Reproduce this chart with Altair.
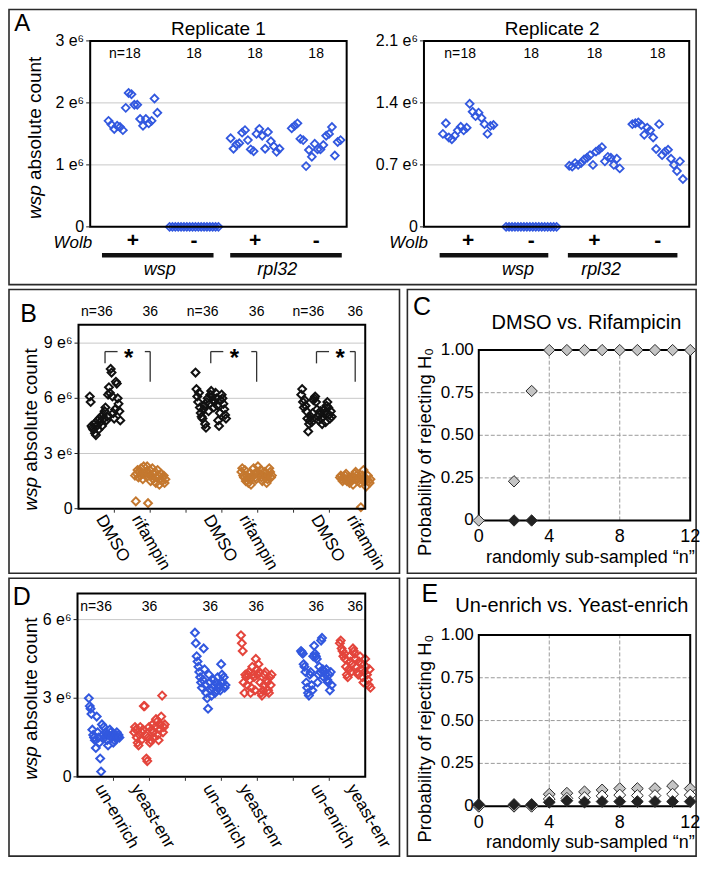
import altair as alt
import pandas as pd

# ---------------- values (wsp counts in units of 1e6) ----------------
rep1_wsp_pos = [1.71, 1.65, 1.58, 1.63, 1.61, 1.56, 1.92, 2.16, 2.14, 1.97, 1.97, 1.74, 1.63, 1.74, 1.67, 1.71, 2.07, 1.84]
rep1_wsp_neg = [0, 0, 0, 0, 0, 0, 0, 0, 0, 0, 0, 0, 0, 0, 0, 0, 0, 0]
rep1_rpl_pos = [1.43, 1.26, 1.33, 1.35, 1.52, 1.56, 1.40, 1.25, 1.22, 1.50, 1.58, 1.47, 1.26, 1.53, 1.38, 1.30, 1.21, 1.26]
rep1_rpl_neg = [1.59, 1.63, 1.67, 1.42, 1.40, 0.98, 1.24, 1.13, 1.34, 1.25, 1.25, 1.32, 1.47, 1.50, 1.61, 1.15, 1.37, 1.40]

rep2_wsp_pos = [1.05, 1.17, 1.01, 0.99, 1.03, 1.09, 1.13, 1.09, 1.12, 1.39, 1.30, 1.25, 1.29, 1.23, 1.16, 1.05, 1.14, 1.15]
rep2_wsp_neg = [0, 0, 0, 0, 0, 0, 0, 0, 0, 0, 0, 0, 0, 0, 0, 0, 0, 0]
rep2_rpl_pos = [0.69, 0.68, 0.72, 0.70, 0.72, 0.76, 0.78, 0.81, 0.70, 0.85, 0.87, 0.90, 0.74, 0.79, 0.78, 0.70, 0.77, 0.66]
rep2_rpl_neg = [1.16, 1.17, 1.18, 1.15, 1.04, 1.12, 1.09, 1.01, 0.88, 1.16, 0.81, 0.85, 0.87, 0.77, 0.70, 0.63, 0.74, 0.54]

a_wolb = ["+", "-", "+", "-"]
a_counts = [18, 18, 18, 18]
a_prefix = ["n=", "", "", ""]
a1_ticks = [0, 1, 2, 3]
a1_tick_labels = ["0", "1 e\u2076", "2 e\u2076", "3 e\u2076"]
a2_ticks = [0, 0.7, 1.4, 2.1]
a2_tick_labels = ["0", "0.7 e\u2076", "1.4 e\u2076", "2.1 e\u2076"]

b_groups = ["DMSO", "rifampin", "DMSO", "rifampin", "DMSO", "rifampin"]
b_dmso_1 = [6.1, 5.8, 4.5, 4.4, 4.3, 4.6, 4.1, 4.0, 4.5, 4.8, 4.3, 4.9, 4.7, 5.0, 4.5, 5.1, 4.9, 5.3,
            5.5, 4.8, 5.0, 6.2, 6.6, 6.3, 7.6, 7.4, 6.1, 5.2, 4.9, 5.4, 6.9, 6.8, 6.0, 5.7, 5.3, 4.8]
b_rif_1 = [1.8, 0.40, 1.9, 2.1, 1.7, 2.0, 1.8, 2.2, 1.9, 1.6, 2.3, 1.9, 1.8, 2.0, 2.3, 0.30, 1.9, 2.1,
           1.5, 1.8, 2.2, 1.6, 1.9, 2.0, 1.4, 1.7, 2.1, 1.8, 1.3, 1.6, 1.9, 1.5, 1.7, 1.8, 1.4, 1.6]
b_dmso_2 = [7.4, 6.5, 6.1, 5.8, 6.3, 5.5, 5.2, 5.0, 4.9, 5.4, 5.6, 4.6, 4.4, 5.8, 6.0, 5.3, 5.7, 6.2,
            6.4, 6.1, 5.9, 5.5, 5.8, 6.3, 6.0, 5.6, 4.8, 4.5, 5.2, 5.9, 6.2, 6.0, 5.7, 5.4, 5.1, 4.9]
b_rif_2 = [2.0, 2.2, 1.8, 1.7, 2.1, 1.5, 1.8, 1.7, 1.4, 1.9, 1.6, 1.3, 1.7, 1.8, 2.2, 1.9, 1.7, 1.6,
           2.0, 2.3, 1.8, 1.9, 2.1, 1.7, 1.5, 1.8, 2.0, 1.9, 1.7, 1.4, 1.6, 1.8, 2.2, 2.0, 1.7, 1.8]
b_dmso_3 = [6.2, 6.5, 5.8, 5.5, 5.9, 5.6, 5.3, 4.9, 4.2, 4.6, 4.8, 5.0, 4.7, 5.2, 5.9, 6.0, 6.1, 5.8,
            5.4, 5.0, 4.8, 5.1, 5.3, 4.9, 4.6, 5.0, 5.4, 5.2, 4.7, 5.6, 5.8, 5.5, 5.1, 4.9, 5.3, 5.0]
b_rif_3 = [1.7, 1.8, 1.6, 1.5, 1.7, 1.6, 1.8, 1.9, 1.5, 1.6, 1.7, 1.4, 1.6, 1.5, 1.6, 1.3, 1.7, 1.9,
           2.0, 1.8, 1.6, 1.5, 1.7, 1.4, 0.08, 1.6, 1.8, 2.1, 1.7, 1.5, 1.2, 1.6, 1.8, 1.5, 1.4, 1.6]
b_counts = [36, 36, 36, 36, 36, 36]
b_prefix = ["n=", "", "n=", "", "n=", ""]
b_ticks = [0, 3, 6, 9]
b_tick_labels = ["0", "3 e\u2076", "6 e\u2076", "9 e\u2076"]

d_groups = ["un-enrich", "yeast-enr", "un-enrich", "yeast-enr", "un-enrich", "yeast-enr"]
d_un_1 = [3.0, 2.7, 2.6, 2.4, 1.8, 1.6, 1.5, 1.4, 1.1, 2.3, 1.7, 1.5, 1.3, 0.7, 0.2, 2.0, 1.6, 1.9,
          1.5, 1.7, 1.6, 1.4, 1.2, 1.6, 1.8, 1.7, 1.5, 1.6, 1.3, 1.4, 1.5, 1.6, 1.7, 1.5, 1.6, 1.5]
d_ye_1 = [1.7, 1.9, 1.8, 1.5, 1.3, 1.2, 1.6, 1.9, 1.4, 1.7, 1.8, 2.7, 2.7, 1.6, 0.7, 0.6, 1.5, 1.9,
          1.3, 1.4, 1.8, 2.0, 1.7, 1.5, 1.9, 2.2, 2.1, 1.6, 1.4, 1.8, 2.0, 2.3, 3.1, 1.7, 1.9, 2.0]
d_un_2 = [5.5, 5.1, 4.6, 4.4, 4.2, 4.0, 3.8, 3.6, 3.4, 3.7, 4.9, 4.1, 3.5, 3.2, 3.0, 2.6, 3.9, 3.6,
          3.3, 3.1, 3.4, 3.7, 3.5, 3.2, 3.6, 3.3, 3.8, 3.4, 3.5, 3.3, 4.3, 3.9, 3.6, 3.8, 3.4, 3.5]
d_ye_2 = [5.4, 5.1, 4.8, 3.6, 3.2, 3.9, 3.8, 3.5, 3.9, 4.0, 3.7, 3.2, 3.4, 4.2, 3.9, 3.8, 3.3, 4.5,
          4.1, 3.9, 4.3, 4.0, 3.6, 3.2, 3.1, 3.3, 3.5, 3.9, 4.0, 3.7, 3.6, 3.3, 3.2, 3.8, 3.5, 3.9]
d_un_3 = [4.8, 4.75, 4.7, 4.3, 4.2, 4.0, 3.6, 3.4, 3.2, 3.1, 3.9, 4.0, 3.5, 3.3, 4.6, 5.0, 4.7, 4.6,
          4.5, 3.6, 3.9, 4.2, 4.0, 5.2, 5.3, 4.1, 3.8, 4.0, 3.9, 4.1, 3.7, 3.6, 3.9, 3.3, 4.0, 3.5]
d_ye_3 = [5.1, 5.2, 4.9, 4.8, 4.6, 4.7, 4.5, 4.2, 3.9, 3.8, 4.1, 4.6, 4.4, 4.0, 4.3, 4.9, 4.8, 4.7,
          4.5, 4.2, 4.0, 3.9, 4.4, 4.6, 4.3, 4.1, 3.8, 3.6, 4.0, 4.5, 4.2, 3.9, 3.7, 3.5, 4.1, 3.4]
d_counts = [36, 36, 36, 36, 36, 36]
d_prefix = ["n=", "", "", "", "", ""]
d_ticks = [0, 3, 6]
d_tick_labels = ["0", "3 e\u2076", "6 e\u2076"]

bd_slot_ticks = [1, 2, 3, 4, 5, 6, 7]

c_n = [0, 2, 3, 4, 5, 6, 7, 8, 9, 10, 11, 12]
c_grey = [0, 0.23, 0.76, 1, 1, 1, 1, 1, 1, 1, 1, 1]
c_black_n = [2, 3]
c_black = [0, 0]

e_n = [0, 2, 3, 4, 5, 6, 7, 8, 9, 10, 11, 12]
e_grey = [0, 0, 0, 0.070, 0.076, 0.084, 0.095, 0.103, 0.103, 0.103, 0.118, 0.103]
e_white = [0, 0, 0, 0.042, 0.046, 0.050, 0.060, 0.065, 0.062, 0.062, 0.070, 0.065]
e_black = [0.01, 0.01, 0.01, 0.023, 0.032, 0.024, 0.027, 0.027, 0.027, 0.027, 0.027, 0.027]

prob_x_ticks = [0, 4, 8, 12]
prob_x_labels = ["0", "4", "8", "12"]
prob_y_ticks = [0, 0.25, 0.5, 0.75, 1]
prob_y_labels = ["0", "0.25", "0.50", "0.75", "1.00"]

# ---------------- styling / layout ----------------
FONT = "Liberation Sans"
BLUE = "#3258df"
RED = "#e4453c"
ORANGE = "#c4782f"
INK = "#111111"
GRID = "#c8c8c8"
DASH = "#9a9a9a"

S = 0.98


def px(v):
    return round((v - 3) * S, 1)


def py(v):
    return round((v - 3) * S, 1)


W = px(706)
H = py(869)
ONE = pd.DataFrame({"k": [0]})


def txt(text, x, y, size=16, align="center", baseline="middle", angle=0, style="normal", weight="normal"):
    kw = dict(text=text, font=FONT, fontSize=size, align=align, baseline=baseline,
              fontStyle=style, fontWeight=weight, color="black")
    if angle:
        kw["angle"] = angle
    return alt.Chart(ONE).mark_text(**kw).encode(x=alt.value(px(x)), y=alt.value(py(y)))


def box(x0, y0, x1, y1):
    return alt.Chart(ONE).mark_rect(fillOpacity=0, stroke="#2a2a2a", strokeWidth=1.6).encode(
        x=alt.value(px(x0)), x2=alt.value(px(x1)), y=alt.value(py(y0)), y2=alt.value(py(y1)))


def hbar(x0, x1, y, w=4.5):
    return alt.Chart(ONE).mark_rule(color=INK, strokeWidth=w).encode(
        x=alt.value(px(x0)), x2=alt.value(px(x1)), y=alt.value(py(y)))


def frame(xs, ys, xdom, ydom, w=2):
    return alt.Chart(ONE).mark_rect(fillOpacity=0, stroke="black", strokeWidth=w).encode(
        x=alt.XDatum(xdom[0], type="quantitative", scale=xs, axis=None),
        x2=alt.X2Datum(xdom[1]),
        y=alt.YDatum(ydom[0], type="quantitative", scale=ys, axis=None),
        y2=alt.Y2Datum(ydom[1]))


def hgrid(vals, xs, ys, xdom, color=GRID, dash=None):
    mk = dict(color=color, strokeWidth=1)
    if dash:
        mk["strokeDash"] = dash
    return alt.Chart(pd.DataFrame({"v": vals})).mark_rule(**mk).encode(
        y=alt.Y("v:Q", scale=ys, axis=None),
        x=alt.XDatum(xdom[0], type="quantitative", scale=xs, axis=None),
        x2=alt.X2Datum(xdom[1]))


def vgrid(vals, xs, ys, ydom, color=DASH, dash=None):
    mk = dict(color=color, strokeWidth=1)
    if dash:
        mk["strokeDash"] = dash
    return alt.Chart(pd.DataFrame({"v": vals})).mark_rule(**mk).encode(
        x=alt.X("v:Q", scale=xs, axis=None),
        y=alt.YDatum(ydom[0], type="quantitative", scale=ys, axis=None),
        y2=alt.Y2Datum(ydom[1]))


def ylabels(vals, labels, ys, x0, size=16, tick=True, pad=6):
    df = pd.DataFrame({"v": vals, "lab": labels})
    out = [alt.Chart(df).mark_text(font=FONT, fontSize=size, align="right", baseline="middle",
                                   color="black").encode(
        x=alt.value(px(x0) - pad), y=alt.Y("v:Q", scale=ys, axis=None), text="lab:N")]
    if tick:
        out.append(alt.Chart(df).mark_rule(color="#222", strokeWidth=1).encode(
            x=alt.value(px(x0) - 4), x2=alt.value(px(x0)), y=alt.Y("v:Q", scale=ys, axis=None)))
    return out


def strip_df(series, centers, spread):
    rows = []
    for k, vals in enumerate(series):
        n = len(vals)
        for i, v in enumerate(vals):
            rows.append({"grp": k, "value": v, "xpos": centers[k] + (i / (n - 1) - 0.5) * spread})
    return pd.DataFrame(rows)


def strip(df, xs, ys, color, size=64, sw=1.7):
    return alt.Chart(df).mark_point(shape="diamond", filled=False, color=color, size=size,
                                    strokeWidth=sw, opacity=1).encode(
        x=alt.X("xpos:Q", scale=xs, axis=None), y=alt.Y("value:Q", scale=ys, axis=None))


def nlabels(centers, counts, prefixes, xs, y, size=14):
    df = pd.DataFrame({"xpos": centers, "n": [str(c) for c in counts], "pre": prefixes})
    nums = alt.Chart(df).mark_text(font=FONT, fontSize=size, color="black", baseline="middle").encode(
        x=alt.X("xpos:Q", scale=xs, axis=None), y=alt.value(py(y)), text="n:N")
    pre = alt.Chart(df).mark_text(font=FONT, fontSize=size, color="black", baseline="middle",
                                  align="right", dx=-8).encode(
        x=alt.X("xpos:Q", scale=xs, axis=None), y=alt.value(py(y)), text="pre:N")
    return [nums, pre]


# ---------------- panel A ----------------
A_centers = [0.5, 1.5, 2.5, 3.5]


def panel_A(series, x0, x1, ymax, yvals, ylabs):
    xs = alt.Scale(domain=[-0.2, 4], range=[px(x0), px(x1)], nice=False, zero=False)
    ys = alt.Scale(domain=[0, ymax], range=[py(225), py(35)], nice=False, zero=False)
    df = strip_df(series, A_centers, 0.8)
    layers = [hgrid(yvals[1:-1], xs, ys, [-0.2, 4]),
              strip(df, xs, ys, BLUE, size=62, sw=1.8),
              frame(xs, ys, [-0.2, 4], [0, ymax])]
    layers += ylabels(yvals, ylabs, ys, x0)
    layers += nlabels(A_centers, a_counts, a_prefix, xs, 48)
    wolb = alt.Chart(pd.DataFrame({"xpos": A_centers, "s": a_wolb})).mark_text(
        font=FONT, fontSize=21, fontWeight="bold", color="black", baseline="middle").encode(
        x=alt.X("xpos:Q", scale=xs, axis=None), y=alt.value(py(239)), text="s:N")
    layers.append(wolb)
    return alt.layer(*layers)


A1 = panel_A([rep1_wsp_pos, rep1_wsp_neg, rep1_rpl_pos, rep1_rpl_neg], 86, 348, 3, a1_ticks, a1_tick_labels)
A2 = panel_A([rep2_wsp_pos, rep2_wsp_neg, rep2_rpl_pos, rep2_rpl_neg], 427, 698, 2.1, a2_ticks, a2_tick_labels)

# ---------------- panels B and D ----------------
BD_centers = [0.74, 2.0, 3.69, 4.97, 6.64, 7.72]
BD_labelpos = [0.6, 1.6, 3.6, 4.6, 6.6, 7.6]


def panel_strip(series, colors, labels, counts, prefixes, x0, x1, ytop, ybot, ymax, yvals, ylabs,
                nl_y, lab_y, extra=None):
    xs = alt.Scale(domain=[0, 8], range=[px(x0), px(x1)], nice=False, zero=False)
    ys = alt.Scale(domain=[0, ymax], range=[py(ybot), py(ytop)], nice=False, zero=False)
    layers = [hgrid([v for v in yvals if v > 0], xs, ys, [0, 8])]
    for k, vals in enumerate(series):
        df = strip_df([vals], [BD_centers[k]], 0.85)
        layers.append(strip(df, xs, ys, colors[k], size=62, sw=2.0))
    layers.append(frame(xs, ys, [0, 8], [0, ymax]))
    layers += ylabels(yvals, ylabs, ys, x0)
    layers.append(alt.Chart(pd.DataFrame({"v": bd_slot_ticks})).mark_rule(color="#333", strokeWidth=1).encode(
        x=alt.X("v:Q", scale=xs, axis=None), y=alt.value(py(ybot)), y2=alt.value(py(ybot) + 4)))
    layers += nlabels(BD_centers, counts, prefixes, xs, nl_y)
    lab = alt.Chart(pd.DataFrame({"xpos": BD_labelpos, "lab": labels})).mark_text(
        font=FONT, fontSize=17, angle=60, align="left", baseline="middle", color="black").encode(
        x=alt.X("xpos:Q", scale=xs, axis=None), y=alt.value(py(lab_y)), text="lab:N")
    layers.append(lab)
    if extra:
        layers += extra(xs, ys)
    return alt.layer(*layers)


def brackets(xs, ys):
    rows = []
    stars = []
    for k in range(3):
        cd, cr = BD_centers[2 * k], BD_centers[2 * k + 1]
        rows += [
            {"x": cd, "x2": cd, "y": 7.9, "y2": 8.54},
            {"x": cd, "x2": cd + 0.35, "y": 8.54, "y2": 8.54},
            {"x": cr - 0.15, "x2": cr, "y": 8.54, "y2": 8.54},
            {"x": cr, "x2": cr, "y": 6.9, "y2": 8.54},
        ]
        stars.append({"x": cd + 0.66, "y": 8.15})
    r = alt.Chart(pd.DataFrame(rows)).mark_rule(color="#333", strokeWidth=1.3).encode(
        x=alt.X("x:Q", scale=xs, axis=None), x2="x2:Q",
        y=alt.Y("y:Q", scale=ys, axis=None), y2="y2:Q")
    s = alt.Chart(pd.DataFrame(stars)).mark_text(text="*", font=FONT, fontSize=24, fontWeight="bold",
                                                 color="black", baseline="middle").encode(
        x=alt.X("x:Q", scale=xs, axis=None), y=alt.Y("y:Q", scale=ys, axis=None))
    return [r, s]


B = panel_strip([b_dmso_1, b_rif_1, b_dmso_2, b_rif_2, b_dmso_3, b_rif_3],
                [INK, ORANGE, INK, ORANGE, INK, ORANGE], b_groups, b_counts, b_prefix,
                74, 367, 325, 513, 10, b_ticks, b_tick_labels, 312, 521, extra=brackets)
D = panel_strip([d_un_1, d_ye_1, d_un_2, d_ye_2, d_un_3, d_ye_3],
                [BLUE, RED, BLUE, RED, BLUE, RED], d_groups, d_counts, d_prefix,
                73, 367, 599.5, 787, 7, d_ticks, d_tick_labels, 613, 796)

# ---------------- panels C and E ----------------


def panel_prob(ytop, ybot, series):
    xs = alt.Scale(domain=[0, 12], range=[px(483), px(699)], nice=False, zero=False)
    ys = alt.Scale(domain=[0, 1], range=[py(ybot), py(ytop)], nice=False, zero=False)
    layers = [hgrid([0.25, 0.5, 0.75], xs, ys, [0, 12], color=DASH, dash=[4, 2]),
              vgrid([4, 8], xs, ys, [0, 1], color=DASH, dash=[4, 2]),
              frame(xs, ys, [0, 12], [0, 1])]
    layers += ylabels(prob_y_ticks, prob_y_labels, ys, 483, size=17, tick=False, pad=5)
    layers.append(alt.Chart(pd.DataFrame({"v": prob_x_ticks, "lab": prob_x_labels})).mark_text(
        font=FONT, fontSize=18, baseline="middle", color="black").encode(
        x=alt.X("v:Q", scale=xs, axis=None), y=alt.value(py(ybot + 17)), text="lab:N"))
    for xvals, yv, fill, size in series:
        df = pd.DataFrame({"n": xvals, "p": yv})
        layers.append(alt.Chart(df).mark_point(shape="diamond", filled=True, fill=fill, stroke="#2a2a2a",
                                               strokeWidth=1, size=size, opacity=1, fillOpacity=1).encode(
            x=alt.X("n:Q", scale=xs, axis=None), y=alt.Y("p:Q", scale=ys, axis=None)))
    return alt.layer(*layers)


C = panel_prob(351, 525, [(c_black_n, c_black, "#222222", 130), (c_n, c_grey, "#c4c4c4", 130)])
E = panel_prob(642, 817, [(e_n, e_grey, "#c4c4c4", 140), (e_n, e_white, "#ffffff", 140),
                          (e_n, e_black, "#222222", 140)])

# ---------------- decorations ----------------
boxes = [box(3, 3, 705, 284), box(3, 289, 402, 579), box(410, 289, 705, 579),
         box(3, 584, 402, 868), box(410, 584, 705, 868)]


def ytitle_wsp(x, ybottom):
    return [txt("wsp", x, ybottom, size=19, align="left", angle=270, style="italic"),
            alt.Chart(ONE).mark_text(text="absolute count", font=FONT, fontSize=19, align="left",
                                     baseline="middle", angle=270, color="black").encode(
                x=alt.value(px(x)), y=alt.value(py(ybottom) - 39))]


deco = [
    txt("A", 16.5, 18, size=24), txt("B", 23, 314, size=25), txt("C", 425, 307, size=25),
    txt("D", 16, 603, size=25), txt("E", 433, 600, size=25),
    txt("Replicate 1", 217, 23, size=19), txt("Replicate 2", 558, 23, size=19),
    txt("DMSO vs. Rifampicin", 593, 323, size=20),
    txt("Un-enrich vs. Yeast-enrich", 578, 612, size=20),
    txt("Probability of rejecting H\u2080", 428, 455, size=18.5, angle=270),
    txt("Probability of rejecting H\u2080", 428, 748, size=18.5, angle=270),
    txt("randomly sub-sampled \u201cn\u201d", 597, 563, size=18),
    txt("randomly sub-sampled \u201cn\u201d", 597, 855, size=18),
    txt("Wolb", 88, 242, size=17, align="right", style="italic"),
    txt("Wolb", 431, 242, size=17, align="right", style="italic"),
    hbar(98, 212, 254), hbar(229, 343, 254), hbar(443, 554, 254), hbar(574, 686, 254),
    txt("wsp", 157, 269, size=18, style="italic"), txt("rpl32", 277, 269, size=18, style="italic"),
    txt("wsp", 523, 269, size=18, style="italic"), txt("rpl32", 608, 269, size=18, style="italic"),
]
deco += ytitle_wsp(30, 217) + ytitle_wsp(26, 515) + ytitle_wsp(26, 790)

chart = alt.layer(*boxes, A1, A2, B, C, D, E, *deco).resolve_scale(
    x="independent", y="independent"
).properties(width=W, height=H, padding=0).configure_view(strokeWidth=0)

chart.save("out.html", embed_options={"renderer": "svg", "actions": False})
